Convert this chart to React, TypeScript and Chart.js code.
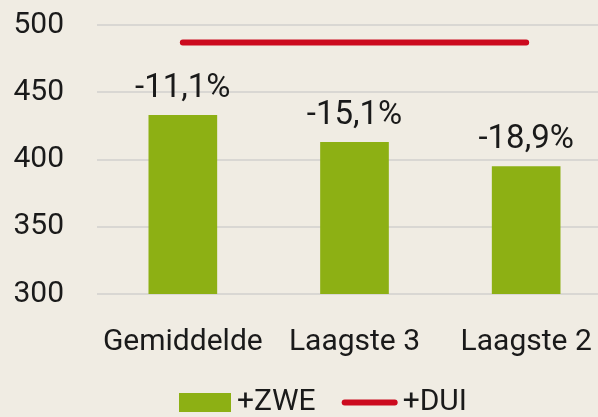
import React, { useEffect, useRef } from "react";
import { Chart, registerables } from "chart.js";

Chart.register(...registerables);

const categories = ["Gemiddelde", "Laagste 3", "Laagste 2"];
const zweValues = [433, 413, 395];
const duiValues = [487, 487, 487];
const changeLabels = ["-11,1%", "-15,1%", "-18,9%"];
const seriesNames = ["+ZWE", "+DUI"];
const yTicks = [300, 350, 400, 450, 500];

const BG = "#f0ece3";
const GREEN = "#8db014";
const RED = "#cc0a1e";
const GRID = "#d9d7d3";
const TEXT = "#1a1a1a";
const FONT = "Roboto, 'Noto Sans', sans-serif";

const barLabelPlugin = {
  id: "barLabels",
  afterDatasetsDraw(chart: any) {
    const meta = chart.getDatasetMeta(0);
    const ctx = chart.ctx;
    ctx.save();
    ctx.font = `33px ${FONT}`;
    ctx.fillStyle = TEXT;
    ctx.textAlign = "center";
    ctx.textBaseline = "alphabetic";
    meta.data.forEach((el: any, i: number) => {
      ctx.fillText(changeLabels[i], el.x, el.y - 18);
    });
    ctx.restore();
  },
};

const legendPlugin = {
  id: "customLegend",
  afterDraw(chart: any) {
    const ctx = chart.ctx;
    const area = chart.chartArea;
    ctx.save();
    ctx.font = `30px ${FONT}`;
    ctx.textBaseline = "middle";
    ctx.textAlign = "left";
    const cy = 402.5;
    let x = area.left + 82;
    ctx.fillStyle = GREEN;
    ctx.fillRect(x, cy - 9.5, 52, 19);
    x += 52 + 6;
    ctx.fillStyle = TEXT;
    const l0 = chart.data.datasets[0].label;
    ctx.fillText(l0, x, cy);
    x += ctx.measureText(l0).width + 26;
    ctx.strokeStyle = RED;
    ctx.lineWidth = 6;
    ctx.lineCap = "round";
    ctx.beginPath();
    ctx.moveTo(x + 3, cy);
    ctx.lineTo(x + 53, cy);
    ctx.stroke();
    x += 56 + 5;
    ctx.fillText(chart.data.datasets[1].label, x, cy);
    ctx.restore();
  },
};

export default function App() {
  const ref = useRef<HTMLCanvasElement | null>(null);

  useEffect(() => {
    if (!ref.current) return;
    const chart = new Chart(ref.current, {
      data: {
        labels: categories,
        datasets: [
          {
            type: "bar",
            label: seriesNames[0],
            data: zweValues,
            backgroundColor: GREEN,
            borderWidth: 0,
            barPercentage: 0.4,
            categoryPercentage: 1,
            order: 2,
          },
          {
            type: "line",
            label: seriesNames[1],
            data: duiValues,
            borderColor: RED,
            borderWidth: 6,
            borderCapStyle: "round",
            pointRadius: 0,
            fill: false,
            order: 1,
          },
        ],
      } as any,
      options: {
        animation: false,
        responsive: false,
        devicePixelRatio: 1,
        layout: { padding: { top: 25, left: 0, right: 0, bottom: 27 } },
        plugins: {
          legend: { display: false },
          tooltip: { enabled: false },
        },
        scales: {
          x: {
            afterFit: (s: any) => {
              s.paddingLeft = 0;
              s.paddingRight = 0;
            },
            grid: { display: false, drawTicks: false },
            border: { display: false },
            ticks: {
              color: TEXT,
              font: { family: FONT, size: 30 },
              padding: 30,
              maxRotation: 0,
              autoSkip: false,
            },
          },
          y: {
            min: 300,
            max: 500,
            afterBuildTicks: (s: any) => {
              s.ticks = yTicks.map((v) => ({ value: v }));
            },
            afterFit: (s: any) => {
              s.width = 97;
              s.paddingTop = 0;
              s.paddingBottom = 0;
            },
            grid: { color: GRID, lineWidth: 2, drawTicks: false },
            border: { display: false },
            ticks: {
              color: TEXT,
              font: { family: FONT, size: 30 },
              padding: 33,
            },
          },
        },
      } as any,
      plugins: [barLabelPlugin, legendPlugin],
    });
    return () => chart.destroy();
  }, []);

  return (
    <div
      style={{
        position: "fixed",
        left: 0,
        top: 0,
        width: 598,
        height: 417,
        overflow: "hidden",
        background: BG,
      }}
    >
      <canvas ref={ref} width={612} height={417} style={{ display: "block" }} />
    </div>
  );
}
